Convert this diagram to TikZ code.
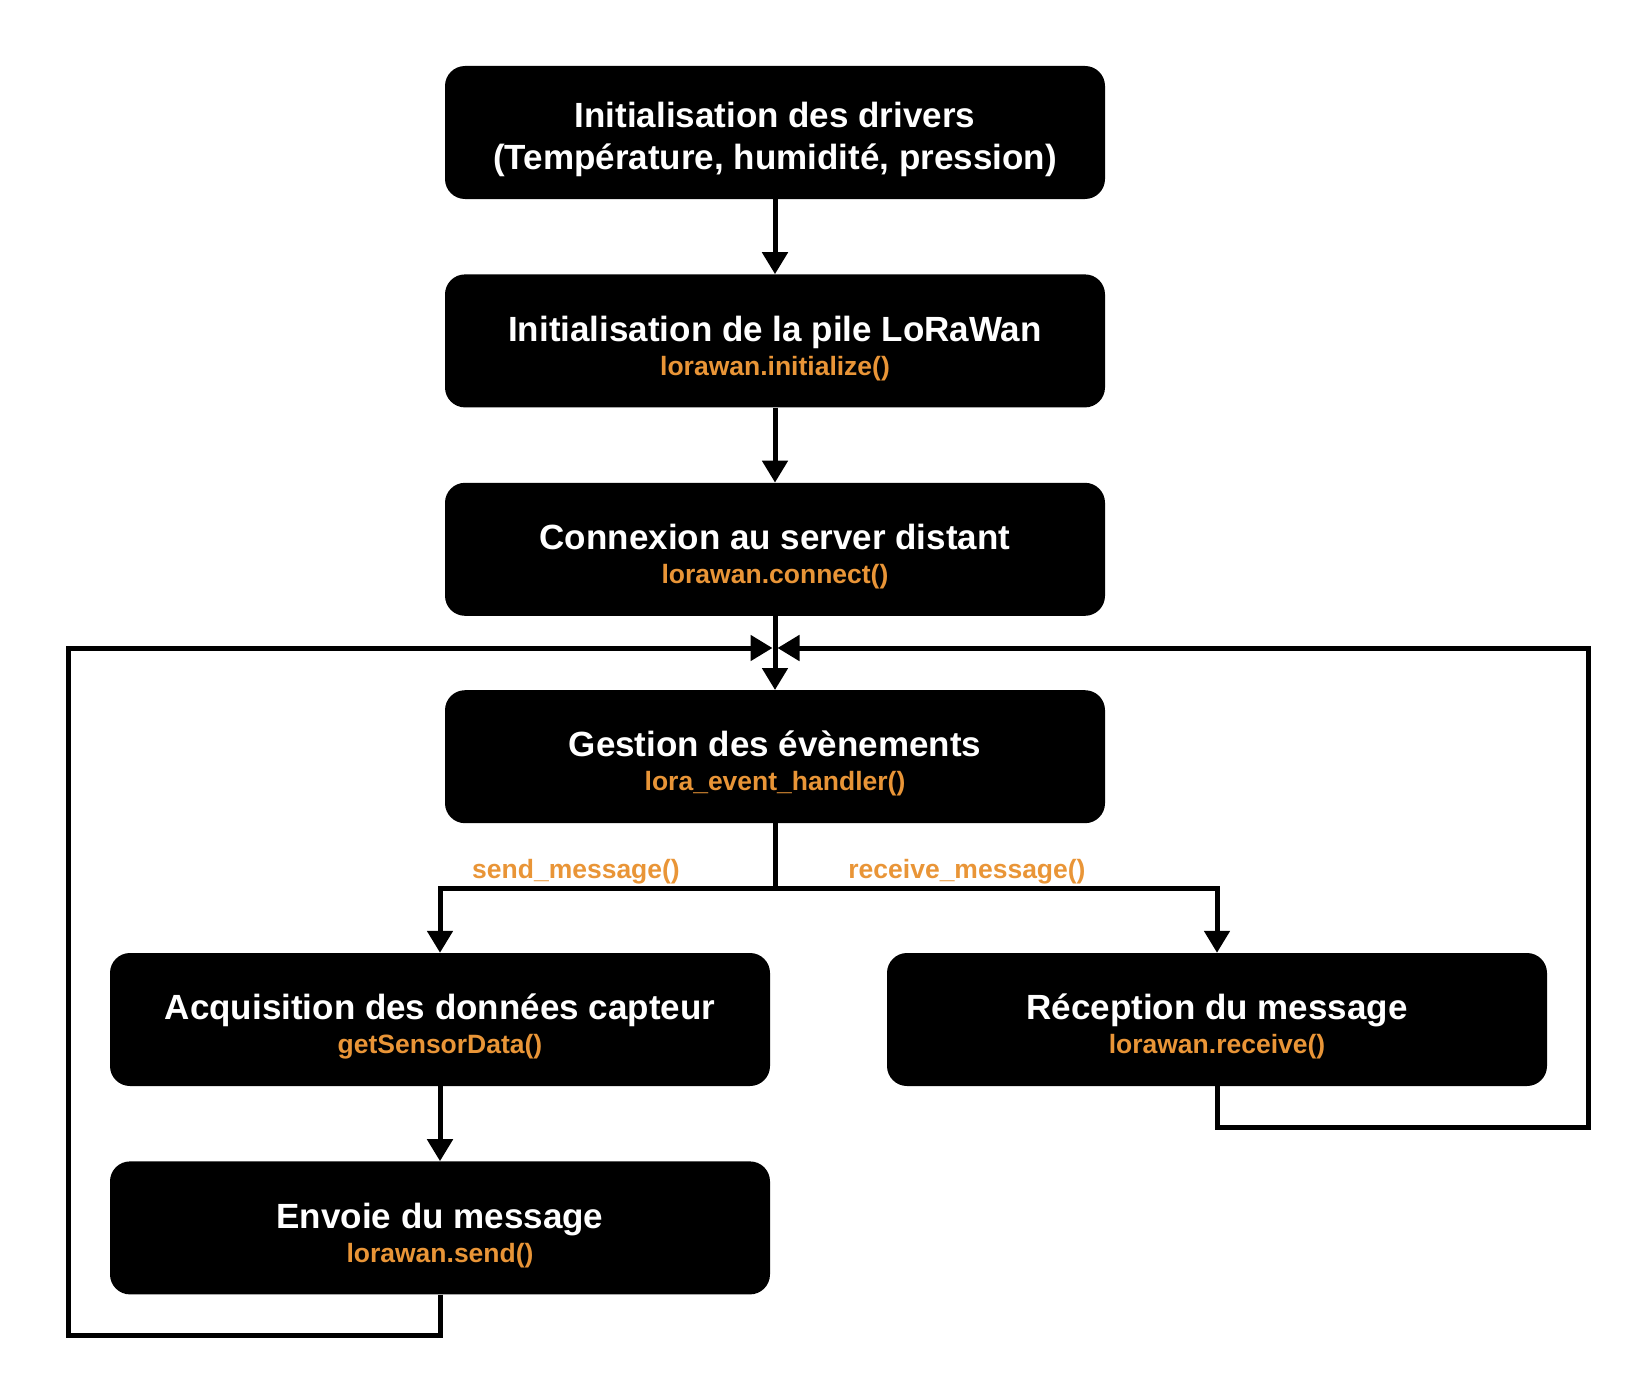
\documentclass[tikz,border=0pt]{standalone}
\usepackage{fontspec}
\setmainfont{Liberation Sans}
\usetikzlibrary{positioning,arrows.meta}
\definecolor{callorange}{RGB}{233,149,55}
\newcommand{\callname}[1]{{\fontsize{26.5}{30}\selectfont\color{callorange}#1}}
\newcommand{\topstrut}{\rule{0pt}{40pt}}

\begin{document}
\begin{tikzpicture}[
  x=1pt, y=-1pt,
  font=\bfseries,
  stepbox/.style={fill=black, text=white, rounded corners=20pt, align=center,
                  minimum width=660pt, minimum height=133pt, inner sep=0pt,
                  font=\fontsize{35}{42}\selectfont\bfseries},
  flow/.style={-{Triangle[length=22pt,width=25pt]}, line width=5pt, black},
  call/.style={font=\fontsize{26.5}{30}\selectfont\bfseries, text=callorange},
]
  \useasboundingbox (0,0) rectangle (1642,1394);

  \node[stepbox] (init) at (775,132.5)
    {\topstrut Initialisation des drivers\\(Température, humidité, pression)};
  \node[stepbox, below=75pt of init] (lora)
    {\topstrut Initialisation de la pile LoRaWan\\[-8pt]
     \callname{lorawan.initialize()}};
  \node[stepbox, below=75pt of lora] (conn)
    {\topstrut Connexion au server distant\\[-8pt]
     \callname{lorawan.connect()}};
  \node[stepbox, below=74pt of conn] (events)
    {\topstrut Gestion des évènements\\[-8pt]
     \callname{lora\_event\_handler()}};

  \node[stepbox] (acq) at (440,1019.5)
    {\topstrut Acquisition des données capteur\\[-8pt]
     \callname{getSensorData()}};
  \node[stepbox] (recv) at (1217,1019.5)
    {\topstrut Réception du message\\[-8pt]
     \callname{lorawan.receive()}};
  \node[stepbox, below=75pt of acq] (send)
    {\topstrut Envoie du message\\[-8pt]
     \callname{lorawan.send()}};

  \coordinate (split) at (775,888);
  \coordinate (mergeL) at (772.5,648);
  \coordinate (mergeR) at (777.5,648);
  \coordinate (leftrail) at (68,1335);
  \coordinate (rightrail) at (1588,1127);

  \draw[flow] (init) -- (lora);
  \draw[flow] (lora) -- (conn);
  \draw[flow] (conn) -- (events);
  \draw[flow] (events.south) -- (split) -| (acq.north);
  \draw[flow] (split) -| (recv.north);
  \draw[flow] (acq) -- (send);

  % retour vers la gestion des evenements
  \draw[flow] (send.south) |- (leftrail) |- (mergeL);
  \draw[flow] (recv.south) |- (rightrail) |- (mergeR);

  \node[call] (sendlbl) at (576,872) {send\_message()};
  \node[call] (recvlbl) at (967,872) {receive\_message()};
\end{tikzpicture}
\end{document}
